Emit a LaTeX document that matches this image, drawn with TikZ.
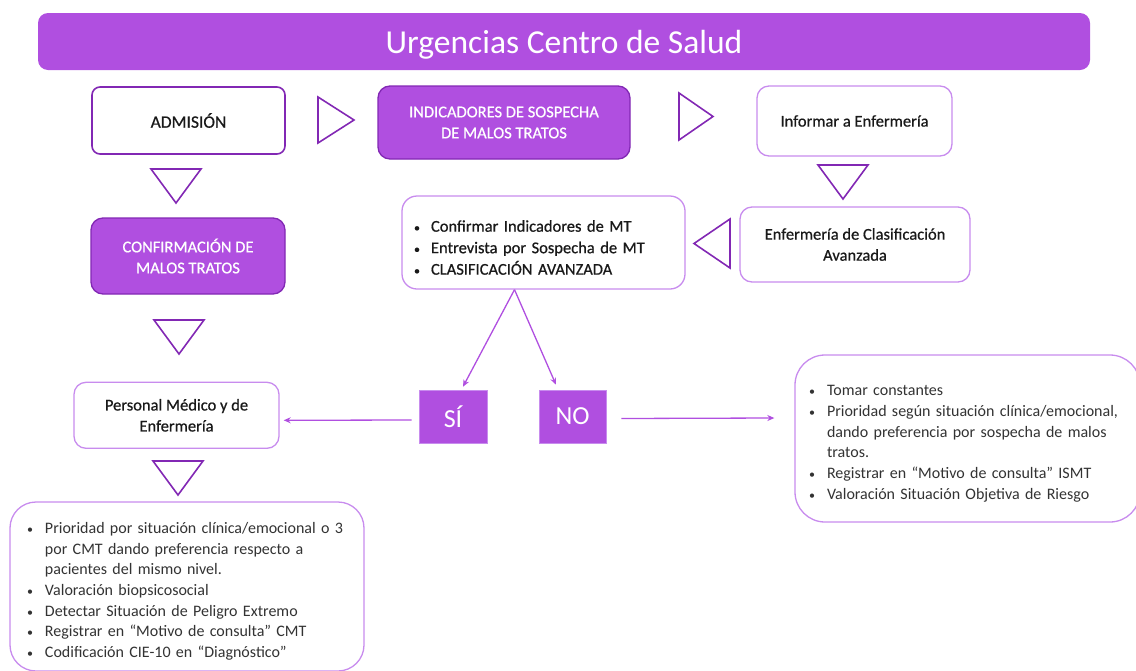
\documentclass[tikz,border=0pt]{standalone}
\usepackage{fontspec}
\setmainfont{Carlito}
\newfontfamily\cabecera{Carlito}[FakeBold=0.6]
\usetikzlibrary{arrows.meta}

\definecolor{morado}{RGB}{176,79,224}
\definecolor{moradoosc}{RGB}{130,40,180}
\definecolor{moradoclaro}{RGB}{200,140,238}
\definecolor{texto}{RGB}{25,25,25}

% bullet line with hanging indent
\newcommand{\punto}[2][30pt]{\par\noindent\hangindent=#1\hangafter=1\makebox[#1][c]{\fontsize{12}{12}\selectfont\textbullet}#2}

\tikzset{
  titulo/.style={fill=morado, rounded corners=10pt, text=white, font=\fontsize{33.5}{38}\selectfont, text height=25pt, text depth=2pt},
  caja/.style={draw=moradoclaro, line width=1.3pt, fill=white, rounded corners=12pt, align=center, text=texto, font=\cabecera\fontsize{16.5}{21}\selectfont},
  cajallena/.style={caja, fill=morado, draw=moradoosc, text=white},
  lista/.style={caja, align=left, font=\rmfamily\fontsize{16}{20.7}\selectfont, text=black!80},
  cuadro/.style={fill=morado, draw=moradoclaro, line width=0.6pt, text=white, font=\fontsize{26}{30}\selectfont, minimum width=68pt, minimum height=53pt},
  flecha/.style={morado, line width=1.3pt, -{Stealth[length=7pt,width=6pt]}},
  triang/.style={draw=moradoosc, line width=1.6pt, line join=miter}
}

\begin{document}
\begin{tikzpicture}[x=1pt, y=-1pt]
  \useasboundingbox (0,0) rectangle (1136,670);
  \begin{scope}
  \clip (0,0) rectangle (1136,670);

  \node[titulo, minimum width=1052pt, minimum height=57pt] (titulo) at (564,41.5) {Urgencias Centro de Salud};

  % first row
  \node[caja, draw=moradoosc, line width=1.6pt, rounded corners=8pt, minimum width=193pt, minimum height=67pt, font=\cabecera\fontsize{17.5}{21}\selectfont] (admision) at (188.5,120.5) {ADMISIÓN};
  \node[cajallena, minimum width=252pt, minimum height=73pt] (indicadores) at (504,122.5) {INDICADORES DE SOSPECHA\\DE MALOS TRATOS};
  \node[caja, minimum width=195pt, minimum height=70pt] (informar) at (854.5,121) {Informar a Enfermería};

  % second row
  \node[cajallena, minimum width=194pt, minimum height=76pt] (confirmacion) at (188,256) {CONFIRMACIÓN DE\\MALOS TRATOS};
  \node[lista, text width=281pt, inner xsep=1pt, minimum width=283pt, minimum height=93pt, rounded corners=15pt, font=\cabecera\fontsize{16.5}{21.5}\selectfont, text=texto] (confirmar) at (543.5,242.5)
    {\punto[28pt]{Confirmar Indicadores de MT}\punto[28pt]{Entrevista por Sospecha de MT}\punto[28pt]{CLASIFICACIÓN AVANZADA}};
  \node[caja, minimum width=230pt, minimum height=75pt] (clasificacion) at (855,244.5) {Enfermería de Clasificación\\Avanzada};

  % third row
  \node[caja, minimum width=205pt, minimum height=66pt] (personal) at (176.5,415.3) {Personal Médico y de\\Enfermería};
  \node[cuadro] (si) at (453,416.5) {SÍ};
  \node[cuadro, minimum width=67pt] (no) at (572.5,416.5) {NO};
  \node[lista, text width=341pt, inner xsep=2pt, minimum width=345pt, minimum height=167pt, rounded corners=30pt] (derecha) at (967.5,438.5)
    {\punto{Tomar constantes}\punto{Prioridad según situación clínica/emocional,\newline dando preferencia por sospecha de malos\newline tratos.}\punto{Registrar en “Motivo de consulta” ISMT}\punto{Valoración Situación Objetiva de Riesgo}};

  % bottom
  \node[lista, text width=344pt, inner xsep=5pt, minimum width=354pt, minimum height=169pt, rounded corners=26pt] (inferior) at (187,586.5)
    {\punto{Prioridad por situación clínica/emocional o 3\newline por CMT dando preferencia respecto a\newline pacientes del mismo nivel.}\punto{Valoración biopsicosocial}\punto{Detectar Situación de Peligro Extremo}\punto{Registrar en “Motivo de consulta” CMT}\punto{Codificación CIE-10 en “Diagnóstico”}};

  % triangles
  \draw[triang] (318,97) -- (354,120) -- (318,143) -- cycle;
  \draw[triang] (679,93) -- (713,116.5) -- (679,140) -- cycle;
  \draw[triang] (730,219) -- (694,243.5) -- (730,268) -- cycle;
  \foreach \x/\y in {176/169, 843/165, 179/320, 178/461}
    \draw[triang] (\x-25,\y) -- (\x+25,\y) -- (\x,\y+34) -- cycle;

  % connectors
  \draw[flecha] ([xshift=-29pt]confirmar.south) -- ([xshift=10pt,yshift=3pt]si.north);
  \draw[flecha] ([xshift=-29pt]confirmar.south) -- ([xshift=-16.5pt,yshift=5pt]no.north);
  \draw[flecha] ([xshift=-7pt,yshift=-3.5pt]si.west) -- ([xshift=4pt,yshift=-5pt]personal.east);
  \draw[flecha] ([xshift=15pt,yshift=-2pt]no.east) -- ([xshift=-20pt,yshift=20.5pt]derecha.west);
  \end{scope}
\end{tikzpicture}
\end{document}
